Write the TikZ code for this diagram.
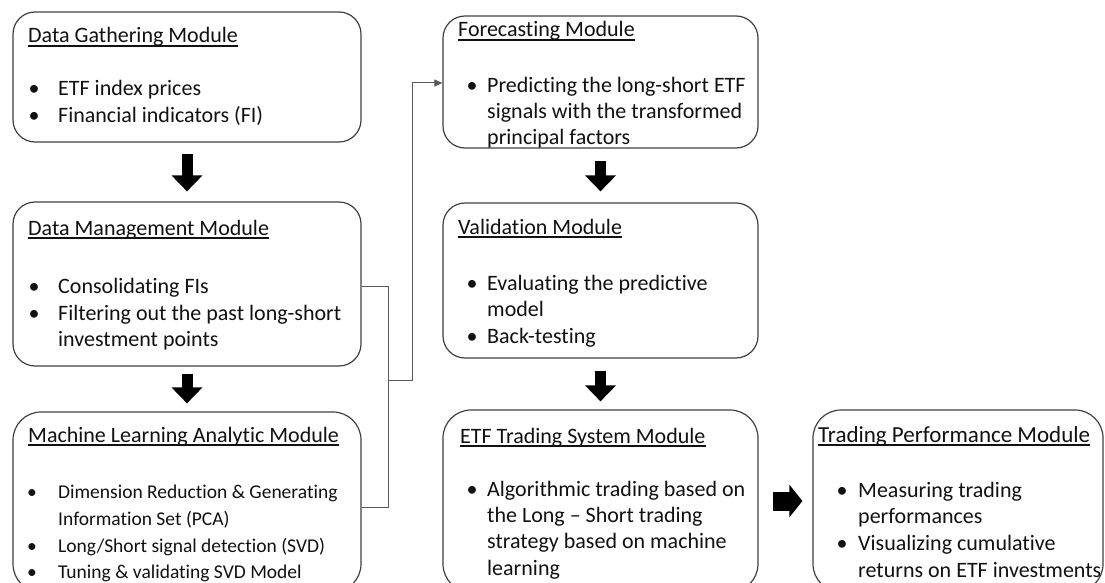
\documentclass[tikz,border=0pt]{standalone}
\usepackage{fontspec}
\setmainfont{Carlito}[Ligatures={NoCommon}]
\usetikzlibrary{arrows.meta}
\definecolor{boxc}{HTML}{404040}
\definecolor{linec}{HTML}{595959}
\definecolor{txt}{HTML}{111111}
\tikzset{
  module/.style={draw=boxc, line width=1.2pt, rounded corners=22pt, inner sep=0pt},
  ttl/.style={anchor=base west, inner sep=0pt, font=\fontsize{22}{26}\selectfont, text=txt},
  itm/.style={anchor=base west, inner sep=0pt, font=\fontsize{22}{26}\selectfont, text=txt},
  sitm/.style={anchor=base west, inner sep=0pt, font=\fontsize{19.5}{24}\selectfont, text=txt},
  bul/.style={anchor=base, inner sep=0pt, font=\fontsize{22}{26}\selectfont, text=txt},
  sbul/.style={anchor=base, inner sep=0pt, font=\fontsize{19.5}{24}\selectfont, text=txt},
  uline/.style={draw=txt, line width=1.3pt},
  blockarrow/.style={draw=black, line width=11pt, -{Triangle[width=30pt,length=16pt]}},
  hblockarrow/.style={draw=black, line width=19pt, -{Triangle[width=32pt,length=13pt]}},
  conn/.style={draw=linec, line width=1pt},
}
\begin{document}
\begin{tikzpicture}[x=1pt,y=-1pt]
\useasboundingbox (0,0) rectangle (1105,583);

% ---- boxes ----
\node[module, minimum width=348pt, minimum height=130pt] (dg) at (187,77) {};
\node[module, minimum width=348pt, minimum height=164pt] (dm) at (187,284) {};
\node[module, rounded corners=28pt, minimum width=348pt, minimum height=180pt] (ml) at (187,502) {};
\node[module, minimum width=315pt, minimum height=132pt] (fc) at (600.5,82) {};
\node[module, minimum width=315pt, minimum height=155pt] (va) at (600.5,280.5) {};
\node[module, rounded corners=28pt, minimum width=315pt, minimum height=182pt] (et) at (600.5,501) {};
\node[module, rounded corners=28pt, minimum width=290pt, minimum height=182pt] (tp) at (958,501) {};

% ---- Data Gathering ----
\node[ttl] (dgt) at (28,43) {Data Gathering Module};
\draw[uline] ([yshift=-3pt]dgt.base west) -- ([yshift=-3pt]dgt.base east);
\node[bul] (dgb1) at (34,96) {•};
\node[itm] (dg1) at (58,96) {ETF index prices};
\node[bul] (dgb2) at (34,123) {•};
\node[itm] (dg2) at (58,123) {Financial indicators (FI)};

% ---- Data Management ----
\node[ttl] (dmt) at (28,235) {Data Management Module};
\draw[uline] ([yshift=-3pt]dmt.base west) -- ([yshift=-3pt]dmt.base east);
\node[bul] (dmb1) at (34,293) {•};
\node[itm] (dm1) at (58,293) {Consolidating FIs};
\node[bul] (dmb2) at (34,320) {•};
\node[itm] (dm2) at (58,320) {Filtering out the past long-short};
\node[itm] (dm3) at (58,346) {investment points};

% ---- Machine Learning ----
\node[ttl] (mlt) at (28,442) {Machine Learning Analytic Module};
\draw[uline] ([yshift=-3pt]mlt.base west) -- ([yshift=-3pt]mlt.base east);
\node[sbul] (mlb1) at (32,498) {•};
\node[sitm] (ml1) at (58,498) {Dimension Reduction \& Generating};
\node[sitm] (ml2) at (58,525) {Information Set (PCA)};
\node[sbul] (mlb2) at (32,552) {•};
\node[sitm] (ml3) at (58,552) {Long/Short signal detection (SVD)};
\node[sbul] (mlb3) at (32,578) {•};
\node[sitm] (ml4) at (58,578) {Tuning \& validating SVD Model};

% ---- Forecasting ----
\node[ttl] (fct) at (458,37) {Forecasting Module};
\draw[uline] ([yshift=-3pt]fct.base west) -- ([yshift=-3pt]fct.base east);
\node[bul] (fcb1) at (472,93) {•};
\node[itm] (fc1) at (487,93) {Predicting the long-short ETF};
\node[itm] (fc2) at (487,119) {signals with the transformed};
\node[itm] (fc3) at (487,145) {principal factors};

% ---- Validation ----
\node[ttl] (vat) at (458,234) {Validation Module};
\draw[uline] ([yshift=-3pt]vat.base west) -- ([yshift=-3pt]vat.base east);
\node[bul] (vab1) at (472,290) {•};
\node[itm] (va1) at (487,290) {Evaluating the predictive};
\node[itm] (va2) at (487,316) {model};
\node[bul] (vab2) at (472,343) {•};
\node[itm] (va3) at (487,343) {Back-testing};

% ---- ETF Trading System ----
\node[ttl] (ett) at (460,443) {ETF Trading System Module};
\draw[uline] ([yshift=-3pt]ett.base west) -- ([yshift=-3pt]ett.base east);
\node[bul] (etb1) at (472,496) {•};
\node[itm] (et1) at (487,496) {Algorithmic trading based on};
\node[itm] (et2) at (487,522) {the Long – Short trading};
\node[itm] (et3) at (487,548) {strategy based on machine};
\node[itm] (et4) at (487,575) {learning};

% ---- Trading Performance ----
\node[ttl, font=\fontsize{23}{27}\selectfont] (tpt) at (818,442) {Trading Performance Module};
\draw[uline] ([yshift=-3pt]tpt.base west) -- ([yshift=-3pt]tpt.base east);
\node[bul] (tpb1) at (842,497) {•};
\node[itm] (tp1) at (858,497) {Measuring trading};
\node[itm] (tp2) at (858,523) {performances};
\node[bul] (tpb2) at (842,550) {•};
\node[itm] (tp3) at (858,550) {Visualizing cumulative};
\node[itm] (tp4) at (858,577) {returns on ETF investments};

% ---- block arrows ----
\draw[blockarrow, shorten <=11pt, shorten >=10pt] (dg.south) -- (dm.north);
\draw[blockarrow, shorten <=7pt, shorten >=8pt] (dm.south) -- (ml.north);
\draw[blockarrow, shorten <=12pt, shorten >=11pt] (fc.south) -- (va.north);
\draw[blockarrow, shorten <=12pt, shorten >=8pt] (va.south) -- (et.north);
\draw[hblockarrow, shorten <=14pt, shorten >=10pt] (et.east) -- (tp.west);

% ---- connector ----
\coordinate (b1) at (388,286);
\coordinate (b2) at (388,507);
\coordinate (bm) at (388,380);
\coordinate (up) at (412,380);
\coordinate (tt) at (412,83);
\draw[conn] (dm.east |- b1) -- (b1) -- (b2) -- (ml.east |- b2);
\draw[conn, -{Triangle[width=7pt,length=8pt]}] (bm) -- (up) -- (tt) -- (fc.west |- tt);
\end{tikzpicture}
\end{document}
